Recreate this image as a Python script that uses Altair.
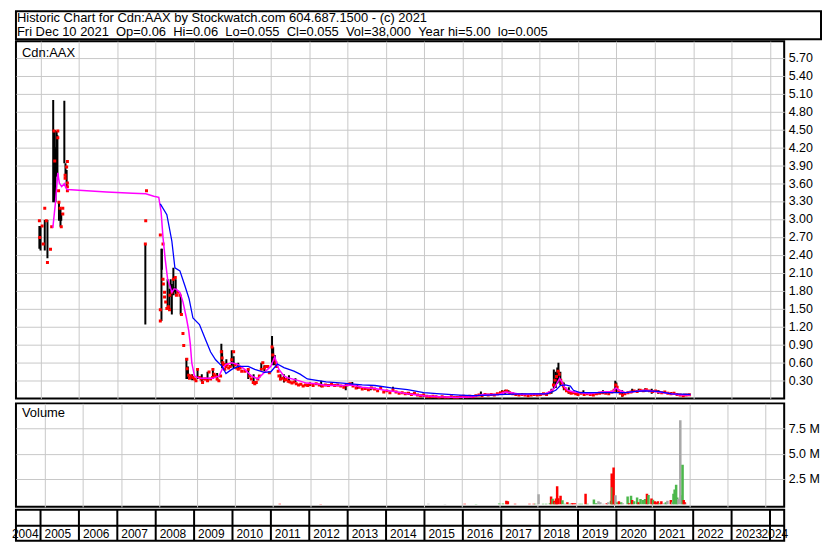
import altair as alt
import pandas as pd

FONT = "Liberation Sans"
GRID = "#c8c8c8"

HEADER_LINES = [
    "Historic Chart for Cdn:AAX by Stockwatch.com 604.687.1500 - (c) 2021",
    "Fri Dec 10 2021 \u00a0Op=0.06 \u00a0Hi=0.06 \u00a0Lo=0.055 \u00a0Cl=0.055 \u00a0Vol=38,000 \u00a0Year hi=5.00 \u00a0lo=0.005",
]
SYMBOL = "Cdn:AAX"
VOLUME_TITLE = "Volume"

YEARS = [2004, 2005, 2006, 2007, 2008, 2009, 2010, 2011, 2012, 2013, 2014,
         2015, 2016, 2017, 2018, 2019, 2020, 2021, 2022, 2023, 2024]
PRICE_TICKS = [0.30, 0.60, 0.90, 1.20, 1.50, 1.80, 2.10, 2.40, 2.70, 3.00,
               3.30, 3.60, 3.90, 4.20, 4.50, 4.80, 5.10, 5.40, 5.70]
VOLUME_TICKS = [2.5, 5.0, 7.5]  # millions

# ---- high/low bars ----
BAR_YEAR = [
    2004.97, 2005.00, 2005.11, 2005.18, 2005.33, 2005.37, 2005.39, 2005.42, 2005.44, 2005.48,
    2005.52, 2005.54, 2005.62, 2005.65, 2005.68, 2007.73, 2008.15, 2008.16, 2008.31, 2008.36,
    2008.39, 2008.42, 2008.46, 2008.49, 2008.52, 2008.65, 2008.80, 2008.84, 2008.95, 2009.09,
    2009.20, 2009.35, 2009.49, 2009.60, 2009.71, 2009.73, 2009.84, 2009.98, 2010.03, 2010.15,
    2010.41, 2010.55, 2010.75, 2010.83, 2011.03, 2011.06, 2011.10, 2011.25, 2011.34, 2011.47,
    2011.64, 2012.02, 2012.31, 2012.95, 2013.12, 2013.25, 2013.60, 2014.18, 2014.60, 2014.98,
    2015.50, 2016.09, 2016.47, 2017.02, 2017.10, 2017.15, 2017.19, 2018.31, 2018.37, 2018.42,
    2018.46, 2018.49, 2018.54, 2018.63, 2018.76, 2019.14, 2019.65, 2019.97, 2020.00, 2020.15,
    2020.41, 2020.58, 2020.75, 2020.92, 2021.09, 2021.43, 2021.76]
BAR_HIGH = [
    2.88, 2.88, 2.98, 2.98, 4.99, 4.49, 4.20, 4.47, 4.40, 3.29,
    3.18, 3.10, 4.98, 3.93, 3.82, 2.58, 2.50, 2.50, 1.99, 1.83,
    1.99, 1.91, 2.18, 1.85, 1.99, 1.72, 0.67, 0.53, 0.40, 0.48,
    0.40, 0.44, 0.48, 0.42, 0.91, 0.80, 0.65, 0.80, 0.70, 0.59,
    0.48, 0.40, 0.59, 0.55, 1.04, 0.85, 0.72, 0.40, 0.40, 0.38,
    0.33, 0.26, 0.29, 0.24, 0.27, 0.22, 0.19, 0.19, 0.10, 0.07,
    0.03, 0.04, 0.11, 0.13, 0.14, 0.13, 0.13, 0.155, 0.48, 0.44,
    0.51, 0.59, 0.44, 0.26, 0.18, 0.13, 0.13, 0.29, 0.26, 0.13,
    0.155, 0.155, 0.166, 0.155, 0.13, 0.10, 0.07]
BAR_LOW = [
    2.50, 2.47, 2.47, 2.34, 3.28, 3.28, 3.28, 3.71, 3.71, 2.97,
    2.87, 2.97, 3.93, 3.71, 3.52, 1.23, 1.29, 2.15, 1.50, 1.48,
    1.69, 1.40, 1.72, 1.77, 1.72, 1.40, 0.32, 0.32, 0.30, 0.32,
    0.27, 0.30, 0.32, 0.30, 0.59, 0.50, 0.53, 0.53, 0.50, 0.48,
    0.32, 0.26, 0.48, 0.45, 0.59, 0.55, 0.55, 0.30, 0.26, 0.26,
    0.27, 0.20, 0.18, 0.13, 0.21, 0.15, 0.13, 0.10, 0.05, 0.02,
    0.005, 0.005, 0.04, 0.07, 0.07, 0.08, 0.09, 0.07, 0.155, 0.17,
    0.24, 0.26, 0.21, 0.13, 0.07, 0.07, 0.09, 0.13, 0.10, 0.02,
    0.09, 0.10, 0.11, 0.07, 0.07, 0.05, 0.03]

# ---- closing prices (red dots), by era ----
DOTS_2005_YEAR = [
    2004.97, 2004.98, 2005.04, 2005.07, 2005.11, 2005.15, 2005.18, 2005.26, 2005.29, 2005.35,
    2005.45, 2005.45, 2005.37, 2005.47, 2005.48, 2005.51, 2005.58, 2005.58, 2005.54, 2005.70,
    2005.68, 2005.64, 2005.64, 2005.70, 2005.70, 2005.70]
DOTS_2005_PRICE = [
    2.97, 2.69, 2.88, 2.58, 3.18, 2.97, 2.27, 2.49, 2.87, 4.47,
    4.47, 4.36, 3.97, 3.47, 3.28, 3.18, 3.18, 3.08, 2.87, 3.96,
    3.87, 3.73, 3.68, 3.60, 3.54, 3.47]

DOTS_2008_YEAR = [
    2007.76, 2007.74, 2007.73, 2008.12, 2008.19, 2008.12, 2008.12, 2008.19, 2008.20, 2008.23,
    2008.23, 2008.26, 2008.29, 2008.33, 2008.36, 2008.37, 2008.42, 2008.46, 2008.51, 2008.54,
    2008.58, 2008.63, 2008.67, 2008.71, 2008.73]
DOTS_2008_PRICE = [
    3.47, 2.97, 2.58, 2.73, 2.58, 1.48, 1.29, 1.99, 1.91, 1.77,
    1.69, 1.61, 1.50, 1.53, 1.48, 1.72, 1.77, 1.99, 2.02, 1.72,
    1.77, 1.72, 1.40, 1.08, 0.88]

DOTS_2010_YEAR = [
    2008.81, 2008.82, 2008.86, 2008.88, 2008.92, 2008.97, 2009.01, 2009.05, 2009.09, 2009.14,
    2009.18, 2009.22, 2009.26, 2009.31, 2009.35, 2009.39, 2009.43, 2009.48, 2009.49, 2009.52,
    2009.56, 2009.60, 2009.645, 2009.69, 2009.71, 2009.73, 2009.75, 2009.77, 2009.80, 2009.83,
    2009.86, 2009.90, 2009.94, 2009.98, 2010.03, 2010.07, 2010.11, 2010.15, 2010.20, 2010.24,
    2010.32, 2010.41, 2010.45, 2010.49, 2010.54, 2010.58, 2010.62, 2010.66, 2010.70, 2010.75,
    2010.79, 2010.83, 2010.87, 2010.92, 2010.96, 2011.03, 2011.05, 2011.09, 2011.13, 2011.15,
    2011.19, 2011.21, 2011.25]
DOTS_2010_PRICE = [
    0.65, 0.49, 0.38, 0.33, 0.37, 0.345, 0.32, 0.29, 0.48, 0.345,
    0.32, 0.26, 0.32, 0.32, 0.29, 0.435, 0.32, 0.345, 0.48, 0.40,
    0.37, 0.32, 0.29, 0.37, 0.775, 0.67, 0.59, 0.56, 0.48, 0.53,
    0.56, 0.505, 0.53, 0.64, 0.775, 0.56, 0.505, 0.48, 0.505, 0.45,
    0.45, 0.48, 0.37, 0.32, 0.26, 0.24, 0.26, 0.32, 0.37, 0.48,
    0.59, 0.505, 0.53, 0.53, 0.425, 0.855, 0.72, 0.64, 0.59, 0.53,
    0.45, 0.37, 0.32]

DOTS_2014_YEAR = [
    2011.31, 2011.36, 2011.40, 2011.45, 2011.50, 2011.55, 2011.60, 2011.66, 2011.72, 2011.78,
    2011.84, 2011.90, 2011.96, 2012.02, 2012.10, 2012.18, 2012.26, 2012.34, 2012.42, 2012.50,
    2012.58, 2012.66, 2012.74, 2012.82, 2012.90, 2012.98, 2013.06, 2013.14, 2013.22, 2013.30,
    2013.38, 2013.46, 2013.54, 2013.62, 2013.70, 2013.78, 2013.86, 2013.94, 2014.02, 2014.10,
    2014.18, 2014.26, 2014.34, 2014.42, 2014.50, 2014.58, 2014.66, 2014.74, 2014.82, 2014.90,
    2014.98, 2015.06, 2015.14, 2015.22, 2015.30, 2015.38, 2015.46, 2015.54, 2015.62, 2015.70,
    2015.78, 2015.86, 2015.94, 2016.02, 2016.10, 2016.18, 2016.26, 2016.34, 2016.42, 2016.50,
    2016.58, 2016.66, 2016.74, 2016.82, 2016.90, 2016.98]
DOTS_2014_PRICE = [
    0.33, 0.30, 0.31, 0.28, 0.27, 0.25, 0.27, 0.24, 0.22, 0.23,
    0.20, 0.22, 0.21, 0.23, 0.21, 0.24, 0.22, 0.20, 0.22, 0.21,
    0.23, 0.21, 0.22, 0.20, 0.18, 0.22, 0.24, 0.20, 0.17, 0.18,
    0.15, 0.16, 0.14, 0.17, 0.15, 0.12, 0.16, 0.10, 0.12, 0.09,
    0.14, 0.10, 0.08, 0.09, 0.07, 0.08, 0.06, 0.08, 0.05, 0.04,
    0.05, 0.03, 0.02, 0.03, 0.02, 0.01, 0.02, 0.01, 0.005, 0.02,
    0.01, 0.01, 0.02, 0.03, 0.02, 0.03, 0.02, 0.04, 0.05, 0.04,
    0.06, 0.05, 0.06, 0.05, 0.07, 0.09]

DOTS_2019_YEAR = [
    2017.06, 2017.14, 2017.22, 2017.30, 2017.38, 2017.46, 2017.54, 2017.62, 2017.70, 2017.78,
    2017.86, 2017.94, 2018.02, 2018.10, 2018.18, 2018.26, 2018.32, 2018.36, 2018.40, 2018.44,
    2018.48, 2018.51, 2018.55, 2018.58, 2018.62, 2018.66, 2018.70, 2018.76, 2018.82, 2018.88,
    2018.94, 2019.00, 2019.08, 2019.16, 2019.24, 2019.32, 2019.40, 2019.48, 2019.56, 2019.64,
    2019.72, 2019.80, 2019.88, 2019.94, 2019.98, 2020.02, 2020.06, 2020.10, 2020.16, 2020.22,
    2020.30, 2020.38, 2020.46, 2020.54, 2020.62, 2020.70, 2020.78, 2020.86, 2020.94, 2021.02,
    2021.10, 2021.18, 2021.26, 2021.34, 2021.42, 2021.50, 2021.58, 2021.66, 2021.74, 2021.82,
    2021.90]
DOTS_2019_PRICE = [
    0.10, 0.12, 0.09, 0.07, 0.06, 0.05, 0.06, 0.05, 0.04, 0.05,
    0.06, 0.05, 0.06, 0.07, 0.06, 0.09, 0.12, 0.22, 0.30, 0.36,
    0.45, 0.40, 0.30, 0.25, 0.20, 0.16, 0.12, 0.10, 0.08, 0.09,
    0.07, 0.06, 0.08, 0.06, 0.07, 0.06, 0.05, 0.07, 0.08, 0.09,
    0.08, 0.07, 0.10, 0.13, 0.22, 0.18, 0.12, 0.08, 0.05, 0.07,
    0.09, 0.10, 0.12, 0.11, 0.13, 0.12, 0.14, 0.12, 0.11, 0.12,
    0.10, 0.09, 0.10, 0.08, 0.07, 0.08, 0.06, 0.05, 0.04, 0.05,
    0.055]

# ---- short moving average (magenta) ----
MA_SHORT_YEAR = [
    2005.32, 2005.39, 2005.45, 2005.49, 2005.55, 2005.62, 2005.66, 2005.70, 2006.00, 2006.72,
    2007.40, 2007.74, 2007.95, 2008.08, 2008.14, 2008.19, 2008.25, 2008.31, 2008.37, 2008.42,
    2008.48, 2008.54, 2008.63, 2008.71, 2008.80, 2008.86, 2008.90, 2008.94, 2009.01, 2009.14,
    2009.48, 2009.65, 2009.73, 2009.82, 2009.98, 2010.15, 2010.32, 2010.49, 2010.66, 2010.83,
    2011.00, 2011.10, 2011.21, 2011.34, 2011.43, 2011.68, 2011.93, 2012.19, 2012.44, 2012.87,
    2013.12, 2013.38, 2013.71, 2013.97, 2014.22, 2014.56, 2014.98, 2015.41, 2015.83, 2016.26,
    2016.51, 2016.93, 2017.10, 2017.27, 2017.53, 2018.12, 2018.25, 2018.37, 2018.46, 2018.52,
    2018.59, 2018.65, 2018.73, 2018.88, 2019.05, 2019.31, 2019.60, 2019.90, 2019.99, 2020.07,
    2020.24, 2020.49, 2020.75, 2021.09, 2021.43, 2021.68, 2021.93]
MA_SHORT_VALUE = [
    2.85, 3.28, 3.77, 3.60, 3.54, 3.59, 3.52, 3.49, 3.48, 3.45,
    3.43, 3.42, 3.38, 3.36, 3.12, 2.69, 2.31, 1.99, 1.88, 1.77,
    1.83, 1.82, 1.77, 1.61, 1.34, 1.13, 0.91, 0.59, 0.37, 0.33,
    0.33, 0.37, 0.48, 0.56, 0.59, 0.56, 0.48, 0.37, 0.32, 0.43,
    0.53, 0.69, 0.48, 0.37, 0.34, 0.30, 0.25, 0.24, 0.21, 0.21,
    0.22, 0.18, 0.16, 0.13, 0.11, 0.07, 0.04, 0.02, 0.01, 0.02,
    0.06, 0.06, 0.10, 0.09, 0.06, 0.07, 0.10, 0.155, 0.26, 0.33,
    0.26, 0.18, 0.13, 0.10, 0.09, 0.07, 0.10, 0.11, 0.17, 0.13,
    0.09, 0.11, 0.13, 0.10, 0.07, 0.05, 0.05]

# ---- long moving average (blue) ----
MA_LONG_YEAR = [
    2008.12, 2008.29, 2008.42, 2008.50, 2008.63, 2008.76, 2008.87, 2008.97, 2009.14, 2009.31,
    2009.43, 2009.56, 2009.73, 2009.83, 2009.98, 2010.15, 2010.41, 2010.58, 2010.83, 2011.00,
    2011.17, 2011.34, 2011.60, 2011.76, 2011.95, 2012.44, 2012.87, 2013.38, 2013.71, 2014.14,
    2014.56, 2014.98, 2015.41, 2015.92, 2016.26, 2016.68, 2017.10, 2017.53, 2018.20, 2018.42,
    2018.54, 2018.67, 2018.80, 2018.88, 2019.05, 2019.56, 2019.90, 2020.24, 2020.49, 2020.75,
    2021.09, 2021.43, 2021.93]
MA_LONG_VALUE = [
    3.25, 3.07, 2.63, 2.18, 2.13, 1.88, 1.66, 1.34, 1.23, 0.96,
    0.77, 0.64, 0.53, 0.41, 0.48, 0.53, 0.53, 0.48, 0.43, 0.44,
    0.57, 0.51, 0.45, 0.40, 0.32, 0.27, 0.25, 0.22, 0.21, 0.17,
    0.14, 0.09, 0.07, 0.05, 0.04, 0.05, 0.06, 0.07, 0.07, 0.13,
    0.21, 0.22, 0.20, 0.13, 0.09, 0.09, 0.09, 0.09, 0.11, 0.12,
    0.11, 0.07, 0.06]

# ---- volume (millions of shares) ----
VOL_YEAR = [
    2011.19, 2012.27, 2015.11, 2015.55, 2016.07, 2016.37, 2016.98, 2017.08, 2017.17, 2017.21,
    2017.40, 2017.78, 2017.89, 2017.93, 2018.02, 2018.14, 2018.22, 2018.32, 2018.35, 2018.39,
    2018.43, 2018.46, 2018.48, 2018.51, 2018.54, 2018.60, 2018.65, 2018.71, 2018.78, 2018.84,
    2018.90, 2018.93, 2018.98, 2019.10, 2019.16, 2019.26, 2019.31, 2019.48, 2019.54, 2019.60,
    2019.65, 2019.73, 2019.82, 2019.86, 2019.93, 2019.95, 2019.97, 2020.00, 2020.03, 2020.05,
    2020.10, 2020.14, 2020.20, 2020.24, 2020.37, 2020.41, 2020.46, 2020.49, 2020.54, 2020.62,
    2020.66, 2020.71, 2020.77, 2020.83, 2020.88, 2020.92, 2021.00, 2021.04, 2021.09, 2021.13,
    2021.17, 2021.21, 2021.26, 2021.34, 2021.38, 2021.42, 2021.51, 2021.55, 2021.58, 2021.61,
    2021.65, 2021.68, 2021.71, 2021.76, 2021.79, 2021.82, 2021.85, 2021.88, 2021.91]
VOL_M = [
    0.04, 0.03, 0.05, 0.03, 0.04, 0.03, 0.08, 0.07, 0.35, 0.30,
    0.04, 0.04, 0.04, 0.05, 0.98, 0.05, 0.05, 0.10, 0.76, 0.55,
    0.35, 0.20, 0.57, 1.78, 0.60, 0.83, 0.40, 0.05, 0.19, 0.05,
    0.10, 0.10, 0.10, 0.05, 0.05, 1.05, 0.05, 0.48, 0.10, 0.29,
    0.19, 0.05, 0.10, 0.19, 0.35, 3.05, 1.69, 3.63, 0.35, 0.89,
    0.19, 0.29, 0.19, 0.10, 0.76, 0.10, 0.83, 0.41, 0.29, 0.67,
    0.20, 0.51, 0.41, 0.51, 1.05, 0.92, 0.57, 0.45, 0.29, 0.19,
    0.29, 0.10, 0.29, 0.10, 0.19, 0.35, 0.41, 0.19, 1.05, 1.46,
    1.94, 0.67, 0.51, 8.30, 0.89, 3.91, 0.41, 0.19, 0.05]
VOL_DIR = [
    "down", "down", "flat", "flat", "down", "up", "up", "up", "down", "down",
    "down", "down", "down", "up", "flat", "up", "up", "up", "down", "up",
    "down", "up", "down", "down", "down", "down", "up", "up", "down", "up",
    "down", "down", "down", "up", "up", "down", "up", "up", "up", "flat",
    "flat", "flat", "down", "flat", "up", "down", "up", "down", "down", "flat",
    "up", "down", "up", "flat", "up", "down", "up", "down", "up", "up",
    "down", "up", "up", "up", "down", "up", "down", "up", "down", "down",
    "down", "up", "down", "flat", "up", "flat", "down", "flat", "up", "up",
    "up", "up", "flat", "flat", "flat", "up", "down", "down", "flat"]

# ---------------- tables ----------------
bars_df = pd.DataFrame(list(zip(BAR_YEAR, BAR_HIGH, BAR_LOW)), columns=["year", "high", "low"])
dot_years = DOTS_2005_YEAR + DOTS_2008_YEAR + DOTS_2010_YEAR + DOTS_2014_YEAR + DOTS_2019_YEAR
dot_prices = DOTS_2005_PRICE + DOTS_2008_PRICE + DOTS_2010_PRICE + DOTS_2014_PRICE + DOTS_2019_PRICE
dots_df = pd.DataFrame(list(zip(dot_years, dot_prices)), columns=["year", "close"])
ma_short_df = pd.DataFrame(list(zip(MA_SHORT_YEAR, MA_SHORT_VALUE)), columns=["year", "value"])
ma_long_df = pd.DataFrame(list(zip(MA_LONG_YEAR, MA_LONG_VALUE)), columns=["year", "value"])
vol_df = pd.DataFrame(list(zip(VOL_YEAR, VOL_M, VOL_DIR)), columns=["year", "vol", "dir"])
years_df = pd.DataFrame({"year": YEARS, "label": [str(y) for y in YEARS]})
one = pd.DataFrame({"k": [0]})

# ---------------- layout ----------------
W = 772
HEADER_W, HEADER_H = 809, 28
PRICE_H = 359
VOL_H = 104
AXIS_H = 31

x_scale = alt.Scale(domain=[2004.36, 2024.37], nice=False, zero=False)
x_grid_axis = alt.Axis(values=YEARS[1:], grid=True, gridColor=GRID, gridWidth=1,
                       labels=False, ticks=False, domain=False, title=None)


def xenc():
    return alt.X("year:Q", scale=x_scale, axis=x_grid_axis)


price_scale = alt.Scale(domain=[-0.006, 5.976], nice=False, zero=False)
price_axis = alt.Axis(orient="right", values=PRICE_TICKS, format=".2f", grid=True,
                      gridColor=GRID, gridWidth=1, ticks=False, domain=False,
                      labelPadding=4, labelFont=FONT, labelFontSize=12.5,
                      labelColor="black", labelOverlap=False, title=None)

bars = alt.Chart(bars_df).mark_rule(color="black", strokeWidth=2, clip=True).encode(
    x=xenc(),
    y=alt.Y("high:Q", scale=price_scale, axis=price_axis),
    y2="low:Q",
)
dots = alt.Chart(dots_df).mark_square(color="#ff0000", size=9, opacity=1, clip=True).encode(
    x=xenc(),
    y=alt.Y("close:Q", scale=price_scale, axis=price_axis),
)
ma_short = alt.Chart(ma_short_df).mark_line(color="#ff00ff", strokeWidth=1.5, clip=True).encode(
    x=xenc(),
    y=alt.Y("value:Q", scale=price_scale, axis=price_axis),
)
ma_long = alt.Chart(ma_long_df).mark_line(color="#0000ff", strokeWidth=1.3, clip=True).encode(
    x=xenc(),
    y=alt.Y("value:Q", scale=price_scale, axis=price_axis),
)
symbol = alt.Chart(one).mark_text(text=SYMBOL, align="left", baseline="middle", font=FONT,
                                  fontSize=13, color="black").encode(
    x=alt.value(6), y=alt.value(11.5))

price = alt.layer(bars, dots, ma_short, ma_long, symbol).properties(width=W, height=PRICE_H)

vol_scale = alt.Scale(domain=[-0.26, 9.98], nice=False, zero=False)
vol_axis = alt.Axis(orient="right", values=VOLUME_TICKS,
                    labelExpr="format(datum.value, '.1f') + ' M'", grid=True,
                    gridColor=GRID, gridWidth=1, ticks=False, domain=False,
                    labelPadding=4, labelFont=FONT, labelFontSize=12.5,
                    labelColor="black", labelOverlap=False, title=None)
vbars = alt.Chart(vol_df).mark_bar(size=2.5, clip=True).encode(
    x=xenc(),
    y=alt.Y("vol:Q", scale=vol_scale, axis=vol_axis),
    y2=alt.datum(0),
    color=alt.Color("dir:N", legend=None,
                    scale=alt.Scale(domain=["up", "down", "flat"],
                                    range=["#4cb84c", "#ff0000", "#a8a8a8"])),
)
vtitle = alt.Chart(one).mark_text(text=VOLUME_TITLE, align="left", baseline="middle", font=FONT,
                                  fontSize=13, color="black").encode(
    x=alt.value(6), y=alt.value(10))
volume = alt.layer(vbars, vtitle).properties(width=W, height=VOL_H)

# ---- year axis row ----
xs_plain = alt.X("year:Q", scale=x_scale, axis=None)
seps = alt.Chart(years_df).transform_filter("datum.year >= 2005").mark_rule(
    color="black", strokeWidth=2).encode(x=xs_plain, y=alt.value(0), y2=alt.value(AXIS_H))
midline = alt.Chart(one).mark_rule(color="black", strokeWidth=2).encode(
    x=alt.value(0), x2=alt.value(W), y=alt.value(16))
labels_mid = alt.Chart(years_df).transform_filter(
    "datum.year >= 2005 && datum.year <= 2023").mark_text(
    align="left", baseline="middle", dx=4, font=FONT, fontSize=12, color="black").encode(
    x=xs_plain, y=alt.value(24), text="label:N")
label_first = alt.Chart(years_df).transform_filter("datum.year == 2004").transform_calculate(
    nxt="datum.year + 1").mark_text(
    align="right", baseline="middle", dx=-2, font=FONT, fontSize=12, color="black").encode(
    x=alt.X("nxt:Q", scale=x_scale, axis=None), y=alt.value(24), text="label:N")
label_last = alt.Chart(years_df).transform_filter("datum.year == 2024").mark_text(
    align="right", baseline="middle", font=FONT, fontSize=12, color="black").encode(
    x=alt.value(W + 4), y=alt.value(24), text="label:N")
axis_row = alt.layer(seps, midline, labels_mid, label_first, label_last).properties(
    width=W, height=AXIS_H)

# ---- header ----
header = alt.Chart(one).mark_text(text=HEADER_LINES, align="left", baseline="top",
                                  lineHeight=13.5, font=FONT, fontSize=13,
                                  color="black").encode(
    x=alt.value(1), y=alt.value(1.2)).properties(width=HEADER_W, height=HEADER_H)

chart = alt.vconcat(
    header,
    alt.vconcat(price, volume, spacing=3),
    axis_row,
    spacing=0,
).properties(
    padding={"left": 2, "right": 0, "top": 1, "bottom": 1},
    background="white",
).configure_view(stroke="black", strokeWidth=2)

chart.save("out.html", embed_options={"renderer": "svg", "actions": False})
